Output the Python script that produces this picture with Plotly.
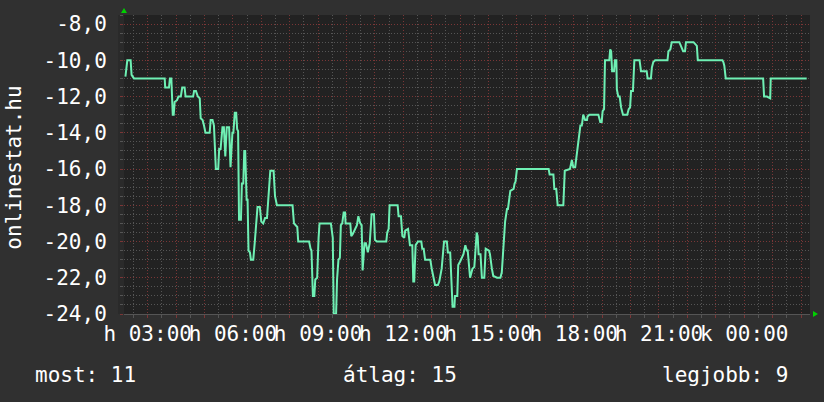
import pandas as pd
import plotly.graph_objects as go

# ---- data (minutes since Monday 00:00, rank shown as negative value) ----
minutes = [133, 137, 144, 146, 151, 216, 217, 225, 227, 230, 233, 235, 237, 242, 245, 250, 253, 258, 260, 276,
           278, 282, 286, 290, 292, 296, 299, 302, 311, 313, 317, 320, 324, 329, 331, 334, 338, 341, 344, 347,
           352, 355, 359, 361, 364, 367, 369, 371, 373, 377, 379, 382, 384, 386, 389, 391, 393, 396, 398, 403,
           406, 408, 412, 417, 420, 424, 428, 432, 435, 439, 446, 449, 453, 486, 489, 492, 496, 498, 521, 524,
           526, 529, 532, 534, 538, 541, 543, 567, 571, 573, 578, 580, 583, 586, 588, 591, 594, 597, 598, 608,
           610, 613, 617, 622, 625, 629, 632, 634, 638, 641, 645, 649, 653, 658, 660, 664, 684, 686, 689, 691,
           708, 710, 715, 718, 722, 724, 730, 732, 734, 739, 741, 743, 746, 751, 758, 760, 763, 766, 777, 780,
           784, 787, 793, 796, 801, 806, 812, 814, 819, 821, 824, 828, 829, 834, 836, 840, 844, 847, 851, 854,
           856, 859, 861, 863, 866, 870, 875, 877, 879, 883, 886, 891, 894, 901, 903, 907, 910, 918, 925, 928,
           931, 935, 939, 941, 946, 953, 955, 957, 960, 1027, 1029, 1034, 1037, 1039, 1043, 1046, 1058, 1061, 1072, 1076,
           1079, 1083, 1087, 1090, 1094, 1097, 1100, 1104, 1108, 1109, 1113, 1132, 1136, 1139, 1141, 1144, 1146, 1155, 1157, 1159,
           1161, 1165, 1167, 1170, 1171, 1174, 1177, 1180, 1184, 1193, 1196, 1199, 1201, 1205, 1208, 1219, 1222, 1234, 1236, 1243,
           1245, 1248, 1252, 1278, 1280, 1284, 1287, 1303, 1306, 1311, 1315, 1317, 1333, 1336, 1340, 1342, 1394, 1396, 1398, 1401,
           1480, 1482, 1488, 1495, 1496, 1572]
rank = [-10.9, -10.0, -10.0, -10.8, -11.0, -11.0, -11.5, -11.5, -11.0, -11.0, -13.0, -13.0, -12.3, -12.2, -12.0, -12.0, -11.5, -11.5, -12.0, -12.0,
        -11.7, -11.7, -12.0, -12.1, -13.2, -13.3, -13.6, -14.0, -14.0, -13.3, -13.3, -13.6, -16.0, -16.0, -14.9, -14.9, -13.7, -13.7, -15.3, -13.7,
        -13.7, -15.9, -14.0, -14.0, -12.9, -12.9, -13.8, -13.9, -18.8, -18.8, -16.8, -16.8, -15.0, -15.0, -17.7, -17.7, -20.5, -20.6, -21.0, -21.0,
        -20.1, -19.5, -18.1, -18.1, -18.9, -19.0, -18.7, -18.7, -17.7, -16.1, -16.1, -17.5, -18.0, -18.0, -19.0, -19.1, -19.2, -20.0, -20.0, -20.4,
        -20.5, -23.0, -23.0, -22.1, -22.0, -19.8, -19.0, -19.0, -19.8, -24.0, -24.0, -22.1, -21.0, -20.9, -19.1, -19.0, -18.4, -18.4, -19.0, -19.0,
        -19.7, -19.6, -19.4, -19.1, -18.6, -19.0, -19.1, -21.6, -20.1, -20.1, -20.6, -20.1, -18.5, -18.5, -19.9, -20.0, -20.0, -19.5, -19.3, -18.0,
        -18.0, -18.6, -18.6, -19.7, -19.8, -19.4, -19.3, -19.9, -20.2, -20.2, -22.2, -22.2, -20.2, -20.0, -20.0, -20.4, -20.4, -21.0, -21.0, -21.5,
        -22.0, -22.4, -22.4, -22.2, -21.5, -20.0, -20.0, -20.6, -20.6, -21.7, -23.6, -23.6, -23.0, -23.0, -21.3, -21.1, -20.8, -20.7, -20.2, -20.5,
        -20.5, -21.5, -22.0, -21.8, -21.5, -21.4, -19.5, -19.7, -20.7, -20.7, -22.0, -22.0, -20.4, -20.5, -20.7, -21.5, -21.9, -22.0, -22.0, -21.7,
        -20.4, -18.9, -18.2, -18.2, -17.2, -17.1, -16.8, -16.7, -16.0, -16.0, -16.3, -16.3, -16.3, -17.1, -17.1, -18.0, -18.0, -16.1, -16.0, -15.5,
        -15.9, -15.9, -15.0, -14.4, -13.6, -13.6, -13.0, -13.3, -13.3, -13.1, -13.0, -13.0, -13.4, -13.4, -12.8, -12.7, -10.0, -10.0, -9.4, -9.5,
        -10.6, -10.6, -10.0, -10.0, -11.6, -12.0, -12.0, -12.6, -13.0, -13.0, -12.7, -12.6, -11.7, -11.7, -10.0, -10.0, -10.6, -10.6, -11.0, -11.0,
        -10.4, -10.1, -10.0, -10.0, -9.5, -9.4, -9.0, -9.0, -9.2, -9.5, -9.5, -9.0, -9.0, -9.1, -9.2, -10.0, -10.0, -10.1, -10.3, -11.0,
        -11.0, -12.0, -12.0, -12.1, -11.0, -11.0]

x_tick_minutes = list(range(180, 1561, 60))
x_tick_labels = {180: "h 03:00", 360: "h 06:00", 540: "h 09:00", 720: "h 12:00",
                 900: "h 15:00", 1080: "h 18:00", 1260: "h 21:00", 1440: "k 00:00"}
y_ticks = [-24, -22, -20, -18, -16, -14, -12, -10, -8]
y_tick_labels = ["-24,0", "-22,0", "-20,0", "-18,0", "-16,0", "-14,0", "-12,0", "-10,0", "-8,0"]
x_range_minutes = [130, 1579]
y_range = [-24, -7.5]
axis_title = "onlinestat.hu"
summary = ["most: 11", "átlag: 15", "legjobb: 9"]

base = pd.Timestamp("2012-01-09 00:00")
def to_time(m):
    return base + pd.to_timedelta(m, unit="min")

xs = [to_time(m) for m in minutes]

FONT = "DejaVu Sans Mono"
FS = 21
BG = "#303030"
CANVAS = "#222222"
RED = "#7a3636"
GRAY = "#555555"

fig = go.Figure()
fig.add_trace(go.Scatter(x=xs, y=rank, mode="lines",
                         line=dict(color="#6ff0b4", width=2), hoverinfo="skip"))

fig.update_layout(
    width=824, height=402,
    margin=dict(l=124, r=14, t=15, b=88, autoexpand=False),
    paper_bgcolor=BG, plot_bgcolor=CANVAS,
    showlegend=False,
    font=dict(family=FONT, size=FS, color="#ffffff"),
)
fig.update_xaxes(
    type="date",
    range=[to_time(x_range_minutes[0]), to_time(x_range_minutes[1])],
    tickmode="array",
    tickvals=[to_time(m) for m in x_tick_minutes],
    ticktext=[x_tick_labels.get(m, "") for m in x_tick_minutes],
    tickangle=0,
    showgrid=True, gridcolor=RED, griddash="1px,2px", gridwidth=1,
    ticks="outside", ticklen=3, tickcolor=RED,
    minor=dict(dtick=1800000, tick0=base, showgrid=True, gridcolor=GRAY,
               griddash="1px,2px", ticks="outside", ticklen=3, tickcolor=GRAY),
    showline=True, linecolor="#555555", linewidth=1,
    zeroline=False,
    ticklabelstandoff=-2,
    tickfont=dict(family=FONT, size=FS, color="#ffffff"),
)
fig.update_yaxes(
    range=y_range,
    tickmode="array", tickvals=y_ticks, ticktext=y_tick_labels,
    showgrid=True, gridcolor=RED, griddash="1px,2px", gridwidth=1,
    ticks="outside", ticklen=3, tickcolor=RED,
    minor=dict(dtick=0.5, tick0=0, showgrid=True, gridcolor=GRAY,
               griddash="1px,2px", ticks="outside", ticklen=3, tickcolor=GRAY),
    showline=False, zeroline=False,
    ticklabelstandoff=9,
    tickfont=dict(family=FONT, size=FS, color="#ffffff"),
)

# lighter strip left of the canvas
fig.add_shape(type="rect", xref="paper", yref="paper", x0=-6 / 686, x1=0, y0=0, y1=1,
              fillcolor="#2a2a2a", line=dict(width=0), layer="below")
# green arrow heads
fig.add_shape(type="path", xref="paper", yref="paper", xsizemode="pixel", ysizemode="pixel",
              xanchor=0, yanchor=1, path="M -3,2 L 3,2 L 0,7 Z",
              fillcolor="#00d000", line=dict(width=0))
fig.add_shape(type="path", xref="paper", yref="paper", xsizemode="pixel", ysizemode="pixel",
              xanchor=1, yanchor=0, path="M 3,-3 L 3,3 L 8,0 Z",
              fillcolor="#00d000", line=dict(width=0))

fig.add_annotation(text=axis_title, xref="paper", yref="paper", x=-0.160, y=0.49,
                   textangle=-90, showarrow=False, xanchor="center", yanchor="middle",
                   font=dict(family=FONT, size=FS, color="#ffffff"))
fig.add_annotation(text=summary[0], xref="paper", yref="paper", x=-0.1327, y=-0.204,
                   showarrow=False, xanchor="left", yanchor="middle",
                   font=dict(family=FONT, size=FS, color="#ffffff"))
fig.add_annotation(text=summary[1], xref="paper", yref="paper", x=0.3163, y=-0.204,
                   showarrow=False, xanchor="left", yanchor="middle",
                   font=dict(family=FONT, size=FS, color="#ffffff"))
fig.add_annotation(text=summary[2], xref="paper", yref="paper", x=0.971, y=-0.204,
                   showarrow=False, xanchor="right", yanchor="middle",
                   font=dict(family=FONT, size=FS, color="#ffffff"))

fig.write_html("out.html", config={"displayModeBar": False},
               post_script="document.body.style.margin='0';document.body.style.overflow='hidden';")
